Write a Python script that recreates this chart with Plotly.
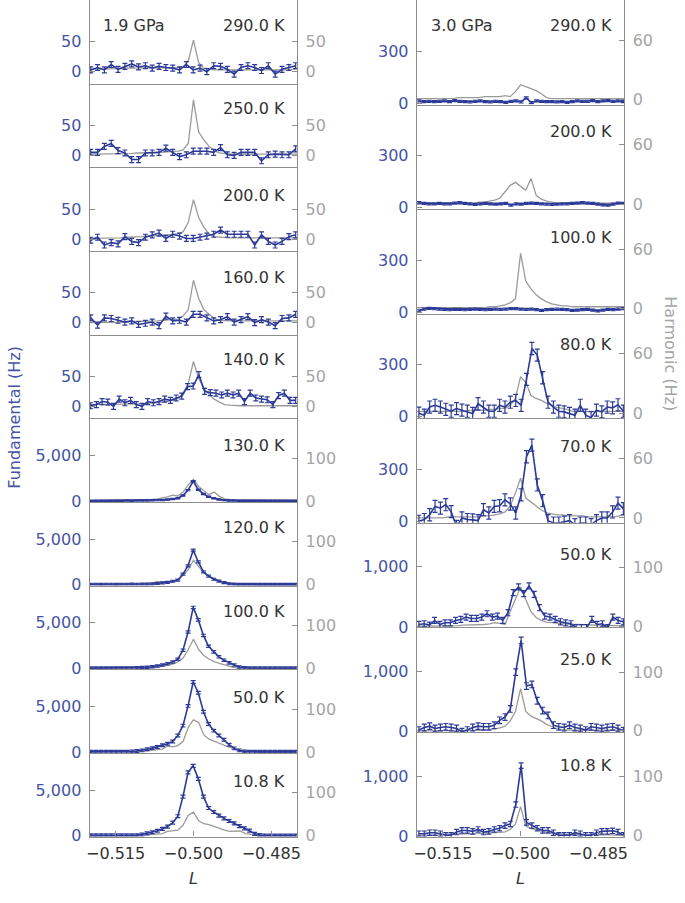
import numpy as np
import plotly.graph_objects as go

# ---------------- data ----------------
# 1.9 GPa column (fundamental = blue, harmonic = grey)
labels_19 = ["290.0 K", "250.0 K", "200.0 K", "160.0 K", "140.0 K",
             "130.0 K", "120.0 K", "100.0 K", "50.0 K", "10.8 K"]
f19_290 = [3,7,3,12,4,9,13,8,10,6,9,7,6,3,12,3,6,0,10,9,4,-4,7,10,7,2,10,-4,4,7,10]
h19_290 = [4,4,4,4,5,5,5,6,6,7,7,7,7,7,7,7,7,7,8,18,53,15,6,4,3,3,3,3,2,2,2,2,2,2,2,2,2,2,3,4,5]
f19_250 = [5,5,15,20,8,4,-7,-7,4,4,5,12,5,-2,1,7,7,7,5,13,1,0,5,5,5,-9,1,2,1,1,11]
h19_250 = [2,2,2,2,2,2,3,3,3,4,4,5,5,5,5,6,6,7,9,20,93,39,26,15,8,4,3,2,2,2,2,2,2,2,2,2,2,2,2,2,2]
f19_200 = [-2,3,-10,-6,-8,4,-4,-6,3,7,10,1,8,5,1,1,3,5,8,15,8,8,8,8,-10,7,-4,-10,-4,4,7]
h19_200 = [1,1,1,1,2,2,2,3,3,4,4,5,5,6,6,7,8,9,12,28,66,36,20,8,4,3,2,2,2,2,2,2,2,2,2,2,2,2,2,2,2]
f19_160 = [8,-4,8,7,4,1,3,-3,-1,1,-5,11,3,4,1,14,14,8,3,5,10,1,5,10,0,5,1,-5,7,8,14]
h19_160 = [0,0,0,0,1,1,1,1,2,2,2,2,3,3,4,4,5,6,11,22,71,41,22,14,7,4,3,3,3,3,3,3,3,3,3,3,3,3,3,3,3]
f19_140 = [1,3,8,7,0,12,6,10,3,0,8,6,8,12,10,14,17,33,34,53,25,23,22,19,22,19,22,8,22,14,12,11,3,18,22,10,10]
h19_140 = [3,3,3,3,3,3,3,3,4,4,4,5,5,6,7,8,10,13,22,38,75,47,30,20,12,7,3,2,1,1,1,1,1,1,1,1,1,1,1,1,1]
f19_130 = [20,30,20,30,40,30,40,50,40,60,60,70,80,100,120,160,220,300,600,1200,
           2170,1250,780,480,300,170,100,60,50,40,40,30,40,30,30,30,20,30,30,20,30]
h19_130 = [1,1,1,1,1,1,1,2,2,2,3,3,4,5,7,10,14,12,21,38,51,34,24,15,21,11,5,3,2,2,2,2,1,1,1,2,2,2,2,1,2]
f19_120 = [50,50,40,50,50,40,50,50,60,50,60,60,80,130,200,260,380,500,1170,2080,
           3800,2500,1400,950,600,400,220,100,60,40,40,40,40,40,40,40,40,40,40,40,40]
h19_120 = [1,1,1,1,1,1,1,2,2,2,2,3,4,8,7,5,7,11,22,35,57,42,28,20,14,9,6,3,2,2,1,1,1,1,1,1,1,1,1,1,1]
f19_100 = [40,40,40,40,40,40,40,40,40,70,90,120,180,250,360,500,700,1000,2000,4000,
           6700,5330,3620,2430,1810,1270,900,600,360,150,60,40,40,40,40,40,40,40,40,40,40]
h19_100 = [0,0,0,0,1,1,1,1,1,1,2,2,2,3,5,7,10,15,24,44,68,44,30,22,16,12,8,5,2,1,1,1,1,1,1,1,1,1,1,1,1]
f19_50 = [30,30,30,30,30,30,30,30,70,120,180,300,430,560,750,900,1160,1810,2900,5070,
          7700,6520,4420,3080,2350,1810,1350,800,400,180,60,20,20,20,20,20,20,20,20,20,20]
h19_50 = [1,1,1,1,1,1,1,2,2,2,2,3,4,5,7,14,12,15,25,58,75,69,40,30,25,20,15,11,6,3,2,1,1,1,1,1,1,1,1,1,1]
f19_11 = [30,30,30,30,30,30,30,30,30,30,120,250,380,540,750,1000,1430,2140,4290,6960,
          7680,6250,4290,3040,2600,2200,1900,1610,1350,1050,800,550,200,60,20,20,20,20,20,20,20]
h19_11 = [0,0,0,1,1,1,1,1,1,1,2,2,3,4,5,10,11,13,25,48,55,35,28,26,22,17,13,10,10,11,5,3,2,1,1,1,1,1,1,1,1]
err_19 = [5, 5, 5, 5, 5, 70, 110, 130, 150, 160]

# 3.0 GPa column
labels_30 = ["290.0 K", "200.0 K", "100.0 K", "80.0 K", "70.0 K", "50.0 K", "25.0 K", "10.8 K"]
f30_290 = [12,8,10,8,10,12,8,14,10,8,6,10,12,8,6,10,8,4,10,12,6,30,2,12,10,8,8,6,8,4,8,12,10,10,14,8,12,14,10,12,8]
h30_290 = [1,1,1,1,1,1,1,1,2,2,2,2,2,3,3,3,3,4,3,8,15,13,11,9,6,2,1,1,1,1,1,1,1,1,1,1,1,1,1,1,1]
f30_200 = [28,24,22,22,24,22,22,26,28,24,22,18,22,24,22,20,22,24,14,22,20,24,26,24,22,20,18,20,22,22,24,26,28,26,24,20,16,14,20,26,24]
h30_200 = [1,1,1,1,1,1,1,1,1,1,1,1,2,2,3,4,6,13,19,22,18,14,26,9,5,3,2,1,1,1,1,1,1,1,1,1,1,1,1,1,1]
f30_100 = [8,18,22,20,18,16,14,16,16,14,16,18,16,14,16,18,16,18,20,20,18,16,18,14,10,14,16,18,16,14,10,12,14,16,12,8,12,16,14,18,20]
h30_100 = [1,1,1,1,1,1,1,1,1,1,1,1,1,1,2,2,3,4,6,10,56,28,20,14,10,7,5,4,3,3,2,2,2,2,2,2,2,2,2,2,2]
f30_80 = [20,9,56,66,56,43,32,47,38,32,19,75,56,32,32,66,56,84,94,66,216,394,356,225,84,56,32,28,19,9,66,9,-6,38,28,56,51,69,32]
h30_80 = [2,2,2,2,2,2,2,2,2,2,3,3,3,3,4,4,5,5,8,15,37,31,18,15,13,10,8,6,5,4,2,2,2,2,2,2,2,2,2,2,2]
f30_70 = [0,10,38,86,76,96,56,-30,19,10,8,4,67,48,86,90,124,100,48,153,373,440,210,119,4,-10,-10,-5,4,-19,-10,-10,-19,4,19,19,54,105,73]
h30_70 = [0,0,0,0,0,0,1,1,1,1,1,1,1,2,2,3,4,6,12,25,40,20,16,12,8,5,4,3,3,2,2,2,2,1,1,1,1,1,1,2,3]
f30_50 = [44,56,33,111,44,72,72,111,128,167,144,144,167,222,167,183,111,239,572,667,556,683,544,322,183,167,128,89,72,56,-10,-10,-10,128,44,56,-10,167,111,89]
h30_50 = [0,0,1,1,1,1,1,1,1,2,2,2,3,3,4,6,5,3,25,45,67,45,25,15,10,7,6,5,4,3,3,3,3,2,2,2,1,1,1,1,1]
f30_25 = [27,70,92,54,70,81,70,54,0,27,70,92,81,81,108,189,243,378,989,1514,757,784,514,351,270,108,81,70,108,70,54,27,81,70,54,70,81,54,16]
h30_25 = [0,0,0,0,0,0,0,0,1,1,1,1,1,2,2,3,5,8,17,33,72,33,25,21,17,11,7,4,2,1,1,1,1,1,1,1,1,1,1,1,1]
f30_11 = [43,43,59,59,43,16,16,70,97,97,81,113,70,81,113,134,177,204,527,1172,231,177,134,97,97,59,16,16,16,59,43,16,16,59,81,81,91,70,16]
h30_11 = [0,0,0,1,1,1,2,2,2,3,3,3,3,4,4,5,5,6,10,19,49,16,12,10,7,5,4,3,2,1,1,1,1,1,1,1,1,1,1,1,1]
err_30 = [6, 6, 6, 35, 35, 50, 55, 45]

x_ticks = [-0.515, -0.500, -0.485]
x_ticktext = ["\u22120.515", "\u22120.500", "\u22120.485"]

# ---------------- styling ----------------
W, H = 685, 903
FONT = "DejaVu Sans"
BLUE = "#2c3a97"
BLUE_TXT = "#4454a6"
GREY = "#9b9b9b"
GREY_TXT = "#a5a5a5"
FRAME = "#8d8d8d"
TXT = "#333333"
L_RANGE = [-0.52, -0.48]

fund_19 = [f19_290, f19_250, f19_200, f19_160, f19_140, f19_130, f19_120, f19_100, f19_50, f19_11]
harm_19 = [h19_290, h19_250, h19_200, h19_160, h19_140, h19_130, h19_120, h19_100, h19_50, h19_11]
fund_30 = [f30_290, f30_200, f30_100, f30_80, f30_70, f30_50, f30_25, f30_11]
harm_30 = [h30_290, h30_200, h30_100, h30_80, h30_70, h30_50, h30_25, h30_11]

# label offsets below each panel top (px)
lab_off_19 = [26, 25, 28, 27, 25, 27, 26, 26, 29, 29]
lab_off_30 = [26, 27, 29, 31, 28, 32, 32, 34]

small_axes = dict(f_range=[-20, 120], f_ticks=[0, 50], f_text=["0", "50"],
                  h_range=[-20, 120], h_ticks=[0, 50], h_text=["0", "50"])
big_axes = dict(f_range=[-100, 9100], f_ticks=[0, 5000], f_text=["0", "5,000"],
                h_range=[-2, 193], h_ticks=[0, 100], h_text=["0", "100"])
r_small = dict(f_range=[-9, 595], f_ticks=[0, 300], f_text=["0", "300"],
               h_range=[-5, 100.5], h_ticks=[0, 60], h_text=["0", "60"])
r_big = dict(f_range=[-5, 1730], f_ticks=[0, 1000], f_text=["0", "1,000"],
             h_range=[-2, 176], h_ticks=[0, 100], h_text=["0", "100"])

panels = []
for r in range(10):
    panels.append(dict(col=0, row=r, n=10, fund=fund_19[r], harm=harm_19[r], err=err_19[r],
                       label=labels_19[r], off=lab_off_19[r], lo=-0.5198, hi=-0.4803,
                       **(small_axes if r < 5 else big_axes)))
for r in range(8):
    panels.append(dict(col=1, row=r, n=8, fund=fund_30[r], harm=harm_30[r], err=err_30[r],
                       label=labels_30[r], off=lab_off_30[r], lo=-0.5196, hi=-0.4802,
                       **(r_small if r < 5 else r_big)))

COLS = [dict(x0=86.7, x1=296.7, lab_x=286, gpa="1.9 GPa", gpa_x=98),
        dict(x0=417.7, x1=627.7, lab_x=617, gpa="3.0 GPa", gpa_x=430)]
BOTTOM = 845.0


def ref(prefix, n):
    return prefix if n == 1 else f"{prefix}{n}"


fig = go.Figure()
layout = dict(width=W, height=H, margin=dict(l=0, r=0, t=0, b=0),
              paper_bgcolor="white", plot_bgcolor="rgba(0,0,0,0)", showlegend=False,
              font=dict(family=FONT, size=16, color=TXT))
annotations = []

for k, p in enumerate(panels):
    c = COLS[p["col"]]
    ph = BOTTOM / p["n"]
    top_px = p["row"] * ph
    bot_px = (p["row"] + 1) * ph
    dom_y = [1 - bot_px / H, 1 - top_px / H]
    xn, hn, fn = k + 1, 2 * k + 1, 2 * k + 2
    is_bottom = p["row"] == p["n"] - 1

    xa = dict(domain=[c["x0"] / W, c["x1"] / W], anchor=ref("y", hn), range=L_RANGE,
              showline=True, linecolor=FRAME, linewidth=1.2, showgrid=False, zeroline=False,
              fixedrange=True)
    if is_bottom:
        xa.update(ticks="inside", ticklen=5, tickcolor=FRAME, tickwidth=1,
                  tickvals=x_ticks, ticktext=x_ticktext, showticklabels=True,
                  ticklabelstandoff=2,
                  tickfont=dict(family=FONT, size=16, color=TXT))
    else:
        xa.update(ticks="", showticklabels=False)
    layout[ref("xaxis", xn)] = xa

    layout[ref("yaxis", hn)] = dict(domain=dom_y, anchor=ref("x", xn), side="right",
                                    range=p["h_range"], tickvals=p["h_ticks"], ticktext=p["h_text"],
                                    ticks="inside", ticklen=5, tickcolor=FRAME,
                                    showline=True, linecolor=FRAME, linewidth=1.2,
                                    showgrid=False, zeroline=False, ticklabelstandoff=4,
                                    fixedrange=True,
                                    tickfont=dict(family=FONT, size=16, color=GREY_TXT))
    layout[ref("yaxis", fn)] = dict(overlaying=ref("y", hn), anchor=ref("x", xn), side="left",
                                    range=p["f_range"], tickvals=p["f_ticks"], ticktext=p["f_text"],
                                    ticks="inside", ticklen=5, tickcolor=FRAME,
                                    showline=True, linecolor=FRAME, linewidth=1.2,
                                    showgrid=False, zeroline=False, ticklabelstandoff=4,
                                    fixedrange=True,
                                    tickfont=dict(family=FONT, size=16, color=BLUE_TXT))

    Lh = np.linspace(L_RANGE[0], L_RANGE[1], len(p["harm"]))
    Lf = np.linspace(p["lo"], p["hi"], len(p["fund"]))
    fig.add_trace(go.Scatter(x=Lh, y=p["harm"], mode="lines",
                             line=dict(color=GREY, width=1.3),
                             xaxis=ref("x", xn), yaxis=ref("y", hn), hoverinfo="skip"))
    fig.add_trace(go.Scatter(x=Lf, y=p["fund"], mode="lines",
                             line=dict(color=BLUE, width=1.6),
                             error_y=dict(type="constant", value=p["err"], color=BLUE,
                                          thickness=1.2, width=2.5),
                             xaxis=ref("x", xn), yaxis=ref("y", fn), hoverinfo="skip"))

    annotations.append(dict(x=c["lab_x"] / W, y=1 - (top_px + p["off"]) / H,
                            xref="paper", yref="paper", xanchor="right", yanchor="middle",
                            text=p["label"], showarrow=False,
                            font=dict(family=FONT, size=16, color=TXT)))
    if p["row"] == 0:
        annotations.append(dict(x=c["gpa_x"] / W, y=1 - (top_px + p["off"]) / H,
                                xref="paper", yref="paper", xanchor="left", yanchor="middle",
                                text=c["gpa"], showarrow=False,
                                font=dict(family=FONT, size=16, color=TXT)))
    if is_bottom:
        annotations.append(dict(x=(c["x0"] + c["x1"]) / 2 / W, y=1 - 887 / H,
                                xref="paper", yref="paper", xanchor="center", yanchor="middle",
                                text="<i>L</i>", showarrow=False,
                                font=dict(family=FONT, size=16, color=TXT)))

annotations.append(dict(x=11 / W, y=1 - 421 / H, xref="paper", yref="paper",
                        xanchor="center", yanchor="middle", textangle=-90,
                        text="Fundamental (Hz)", showarrow=False,
                        font=dict(family=FONT, size=16, color=BLUE_TXT)))
annotations.append(dict(x=674 / W, y=1 - 357 / H, xref="paper", yref="paper",
                        xanchor="center", yanchor="middle", textangle=90,
                        text="Harmonic (Hz)", showarrow=False,
                        font=dict(family=FONT, size=16, color=GREY_TXT)))

layout["annotations"] = annotations
fig.update_layout(**layout)
fig.write_html("out.html", config={"displayModeBar": False},
               post_script="document.body.style.margin='0';document.body.style.overflow='hidden';")
